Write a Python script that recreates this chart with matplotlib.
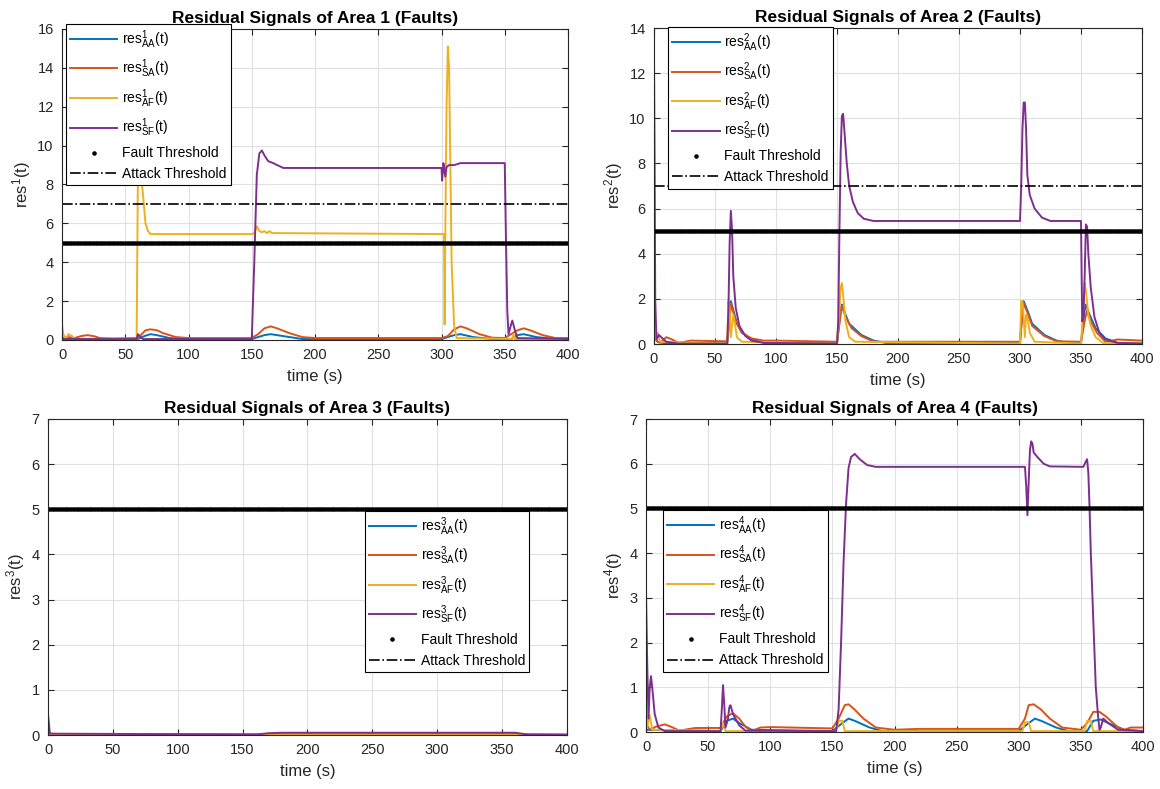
import numpy as np
import matplotlib
matplotlib.use('Agg')
import matplotlib.pyplot as plt

plt.rcParams['font.family'] = ['Liberation Sans', 'DejaVu Sans']
plt.rcParams['mathtext.fontset'] = 'custom'
plt.rcParams['mathtext.rm'] = 'Liberation Sans'
plt.rcParams['mathtext.it'] = 'Liberation Sans'

# MATLAB default colours
c_aa, c_sa, c_af, c_sf = '#0072BD', '#D95319', '#EDB120', '#7E2F8E'

fault_thr = 5
attack_thr = 7
t_thr = np.arange(0, 400.5, 0.5)

# ---- Area 1 (time, value) breakpoints
a1_aa_t = [0, 60, 65, 70, 75, 85, 100, 150, 160, 165, 175, 190, 300, 310, 315, 325, 340, 355, 360, 365, 375, 390, 400]
a1_aa_v = [0.05, 0.05, 0.2, 0.3, 0.25, 0.1, 0.05, 0.05, 0.25, 0.3, 0.2, 0.05, 0.05, 0.25, 0.3, 0.15, 0.05, 0.05, 0.25, 0.3, 0.15, 0.05, 0.05]
a1_sa_t = [0, 5, 10, 15, 20, 25, 30, 40, 60, 63, 66, 70, 75, 80, 90, 100, 150, 155, 160, 165, 170, 180, 190, 200, 300, 305, 310, 315, 320, 330, 340, 350, 355, 360, 365, 370, 380, 390, 400]
a1_sa_v = [0.1, 0.15, 0.1, 0.2, 0.25, 0.2, 0.1, 0.08, 0.1, 0.3, 0.5, 0.55, 0.5, 0.35, 0.15, 0.1, 0.1, 0.3, 0.6, 0.7, 0.6, 0.35, 0.15, 0.1, 0.1, 0.2, 0.55, 0.7, 0.6, 0.3, 0.12, 0.1, 0.3, 0.5, 0.6, 0.5, 0.25, 0.1, 0.1]
a1_af_t = [0, 1, 3, 5, 8, 10, 59, 60, 62, 64, 66, 68, 70, 150, 152, 154, 156, 158, 160, 162, 164, 166, 300, 302, 302.5, 303, 304, 305, 306, 307, 308, 310, 312, 356, 357, 358, 400]
a1_af_v = [0.8, 0.3, 0.05, 0.3, 0.2, 0.05, 0.05, 8.5, 8.8, 7.5, 6.0, 5.6, 5.45, 5.45, 5.5, 5.85, 5.6, 5.55, 5.6, 5.5, 5.6, 5.5, 5.45, 5.45, 0.8, 5.5, 12, 15.1, 14, 9, 4, 0.7, 0.1, 0.05, 0.3, 0.05, 0.05]
a1_sf_t = [0, 59, 60, 62, 64, 150, 152, 154, 156, 158, 160, 163, 167, 170, 175, 300, 300.5, 301.5, 302, 303, 304, 306, 310, 315, 350, 351, 352, 353, 355, 356, 358, 360, 400]
a1_sf_v = [0.05, 0.05, 0.3, 0.15, 0.05, 0.05, 4, 8.5, 9.6, 9.75, 9.5, 9.2, 9.1, 9.0, 8.85, 8.85, 8.2, 9.1, 8.9, 8.4, 8.9, 9.0, 9.0, 9.1, 9.1, 5, 1.5, 0.3, 0.8, 1.0, 0.5, 0.1, 0.05]

# ---- Area 2
a2_aa_t = [0, 3, 10, 60, 62, 63, 65, 68, 72, 80, 90, 150, 153, 154, 157, 160, 170, 180, 190, 300, 302, 303, 306, 310, 320, 330, 340, 350, 353, 354, 357, 362, 370, 380, 400]
a2_aa_v = [0.3, 0.1, 0.02, 0.02, 1.2, 1.9, 1.5, 0.9, 0.5, 0.2, 0.05, 0.03, 1.5, 1.75, 1.3, 0.9, 0.4, 0.15, 0.05, 0.05, 1.5, 1.9, 1.5, 0.9, 0.4, 0.15, 0.05, 0.05, 1.5, 1.75, 1.3, 0.7, 0.25, 0.05, 0.02]
a2_sa_t = [0, 3, 5, 10, 15, 20, 25, 30, 60, 62, 63, 65, 68, 72, 80, 90, 100, 150, 153, 154, 157, 162, 170, 180, 200, 300, 302, 303, 306, 310, 320, 330, 350, 353, 355, 358, 363, 370, 375, 380, 400]
a2_sa_v = [0.3, 0.1, 0.05, 0.3, 0.2, 0.05, 0.1, 0.15, 0.12, 1.0, 1.8, 1.4, 0.9, 0.5, 0.25, 0.15, 0.15, 0.1, 1.3, 1.7, 1.2, 0.7, 0.35, 0.1, 0.1, 0.1, 1.3, 1.8, 1.4, 0.8, 0.35, 0.12, 0.1, 1.0, 1.5, 1.0, 0.5, 0.1, 0.15, 0.2, 0.15]
a2_af_t = [0, 1, 3, 5, 60, 61, 62, 63, 65, 66, 68, 72, 150, 152, 153, 154, 155, 157, 160, 165, 300, 301, 302, 303, 304, 305, 306, 308, 312, 350, 351, 353, 354, 356, 358, 362, 368, 400]
a2_af_v = [0.8, 0.2, 0.5, 0.1, 0.02, 1.9, 1.5, 0.3, 1.3, 1.0, 0.3, 0.1, 0.02, 1.5, 2.5, 2.7, 2.2, 1.0, 0.3, 0.1, 0.02, 1.9, 1.9, 1.2, 0.3, 1.3, 1.2, 0.5, 0.1, 0.02, 0.8, 2.7, 2.4, 1.3, 0.8, 0.3, 0.05, 0.02]
a2_sf_t = [0, 0.5, 1, 2, 4, 6, 10, 20, 60, 61, 62, 63, 64, 65, 67, 70, 75, 80, 90, 150, 151, 152, 153, 154, 155, 156, 158, 160, 163, 167, 172, 180, 300, 301, 302, 303, 304, 305, 306, 308, 312, 318, 325, 350, 351, 352, 353, 354, 355, 356, 358, 361, 365, 370, 380, 400]
a2_sf_v = [12.6, 8, 2, 0.2, 0.4, 0.3, 0.1, 0.02, 0.02, 1.5, 4.5, 5.9, 5.0, 3.0, 1.6, 0.8, 0.35, 0.15, 0.05, 0.02, 1, 5, 8.5, 10.1, 10.2, 9.5, 8, 7, 6.3, 5.8, 5.55, 5.45, 5.45, 7, 9.5, 10.7, 10.7, 9.5, 7.5, 6.6, 6.0, 5.6, 5.45, 5.45, 1.0, 1.2, 3.0, 5.3, 5.2, 4.0, 2.5, 1.2, 0.5, 0.2, 0.05, 0.02]

# ---- Area 3
a3_aa_t = [0, 1, 400]
a3_aa_v = [0.1, 0.01, 0.01]
a3_sa_t = [0, 0.5, 1, 10, 400]
a3_sa_v = [0.4, 0.05, 0.03, 0.01, 0.01]
a3_af_t = [0, 1, 400]
a3_af_v = [0.05, 0.0, 0.0]
a3_sf_t = [0, 0.5, 1.5, 160, 170, 180, 360, 370, 400]
a3_sf_v = [0.45, 0.3, 0.03, 0.01, 0.04, 0.05, 0.05, 0.01, 0.0]

# ---- Area 4
a4_aa_t = [0, 60, 65, 70, 75, 85, 150, 158, 163, 168, 180, 190, 300, 308, 313, 318, 330, 340, 355, 360, 366, 372, 385, 400]
a4_aa_v = [0.05, 0.02, 0.25, 0.3, 0.2, 0.05, 0.02, 0.2, 0.3, 0.25, 0.1, 0.02, 0.02, 0.2, 0.3, 0.25, 0.1, 0.02, 0.02, 0.25, 0.28, 0.2, 0.05, 0.02]
a4_sa_t = [0, 3, 8, 15, 20, 27, 35, 40, 60, 62, 65, 70, 75, 80, 85, 92, 100, 150, 155, 160, 163, 168, 175, 185, 200, 220, 300, 305, 308, 312, 318, 325, 335, 350, 355, 360, 365, 370, 380, 385, 390, 400]
a4_sa_v = [0.2, 0.05, 0.12, 0.17, 0.12, 0.03, 0.07, 0.09, 0.09, 0.2, 0.35, 0.42, 0.3, 0.12, 0.02, 0.1, 0.11, 0.08, 0.3, 0.6, 0.62, 0.5, 0.3, 0.1, 0.05, 0.07, 0.07, 0.3, 0.6, 0.62, 0.5, 0.3, 0.1, 0.05, 0.2, 0.45, 0.45, 0.35, 0.1, 0.05, 0.1, 0.1]
a4_af_t = [0, 1, 3, 5, 60, 62, 64, 153, 155, 158, 160, 303, 305, 308, 310, 353, 355, 358, 360, 400]
a4_af_v = [0.75, 0.1, 0.38, 0.05, 0.02, 0.2, 0.02, 0.02, 0.25, 0.25, 0.02, 0.02, 0.22, 0.22, 0.02, 0.02, 0.25, 0.25, 0.02, 0.02]
a4_sf_t = [0, 1, 2, 3, 4, 5, 7, 10, 15, 60, 61, 62, 63, 64, 66, 67, 68, 70, 75, 80, 153, 155, 157, 159, 161, 163, 165, 168, 172, 178, 185, 305, 306, 307, 308, 309, 310, 311, 312, 315, 320, 325, 352, 354, 355, 356, 357, 358, 360, 362, 364, 365, 366, 368, 372, 380, 400]
a4_sf_v = [3.1, 1.5, 0.3, 1.0, 1.25, 1.0, 0.4, 0.1, 0.02, 0.02, 0.5, 1.05, 0.6, 0.1, 0.3, 0.55, 0.6, 0.4, 0.15, 0.03, 0.02, 0.5, 2.0, 3.8, 5.1, 5.9, 6.15, 6.22, 6.1, 5.97, 5.93, 5.93, 5.5, 4.85, 5.6, 6.3, 6.5, 6.45, 6.25, 6.15, 6.0, 5.94, 5.93, 6.05, 6.1, 5.8, 5.0, 4.0, 2.5, 1.0, 0.3, 0.05, 0.1, 0.3, 0.2, 0.05, 0.02]

areas = [
    dict(n=1, rect=[0.05345, 0.56908, 0.43621, 0.39417], ymax=16, yticks=range(0, 17, 2),
         data=[(a1_aa_t, a1_aa_v), (a1_sa_t, a1_sa_v), (a1_af_t, a1_af_v), (a1_sf_t, a1_sf_v)],
         leg=(0.008, 1.016)),
    dict(n=2, rect=[0.56379, 0.56400, 0.42069, 0.40051], ymax=14, yticks=range(0, 15, 2),
         data=[(a2_aa_t, a2_aa_v), (a2_sa_t, a2_sa_v), (a2_af_t, a2_af_v), (a2_sf_t, a2_sf_v)],
         leg=(0.029, 1.003)),
    dict(n=3, rect=[0.04138, 0.06844, 0.44741, 0.40051], ymax=7, yticks=range(0, 8),
         data=[(a3_aa_t, a3_aa_v), (a3_sa_t, a3_sa_v), (a3_af_t, a3_af_v), (a3_sf_t, a3_sf_v)],
         leg=(0.61, 0.709)),
    dict(n=4, rect=[0.55690, 0.07224, 0.42845, 0.39670], ymax=7, yticks=range(0, 8),
         data=[(a4_aa_t, a4_aa_v), (a4_sa_t, a4_sa_v), (a4_af_t, a4_af_v), (a4_sf_t, a4_sf_v)],
         leg=(0.034, 0.709)),
]

fig = plt.figure(figsize=(11.6, 7.89), dpi=100)
for a in areas:
    ax = fig.add_axes(a['rect'])
    n = a['n']
    keys = ['AA', 'SA', 'AF', 'SF']
    for (t, v), col, k in zip(a['data'], [c_aa, c_sa, c_af, c_sf], keys):
        ax.plot(t, v, color=col, lw=1.4, label=r'res$^{%d}_{\mathrm{%s}}$(t)' % (n, k))
    ax.plot(t_thr, np.full_like(t_thr, fault_thr), '.', color='black', ms=3.5, label='Fault Threshold')
    ax.plot(t_thr, np.full_like(t_thr, attack_thr), '-.', color='black', lw=1.2, label='Attack Threshold')
    ax.set_xlim(0, 400)
    ax.set_ylim(0, a['ymax'])
    ax.set_xticks(range(0, 401, 50))
    ax.set_yticks(list(a['yticks']))
    ax.grid(True, color='#e0e0e0', lw=0.8)
    ax.set_axisbelow(True)
    ax.tick_params(direction='in', top=True, right=True, labelsize=10.5, colors='#262626',
                   length=4, pad=6)
    for s in ax.spines.values():
        s.set_color('#262626')
        s.set_linewidth(0.8)
    ax.set_xlabel('time (s)', fontsize=12, color='#262626', labelpad=5)
    ax.set_ylabel(r'res$^{%d}$(t)' % n, fontsize=12, color='#262626', labelpad=3)
    ax.set_title('Residual Signals of Area %d (Faults)' % n, fontsize=12.5, fontweight='bold', pad=4)
    leg = ax.legend(loc='upper left', bbox_to_anchor=a['leg'], borderaxespad=0, fontsize=10,
                    fancybox=False, edgecolor='black', framealpha=1, handlelength=3.4,
                    labelspacing=0.5, markerscale=1.3, borderpad=0.3, handletextpad=0.35)
    leg.get_frame().set_linewidth(0.8)

fig.savefig('out.png', dpi=100)
